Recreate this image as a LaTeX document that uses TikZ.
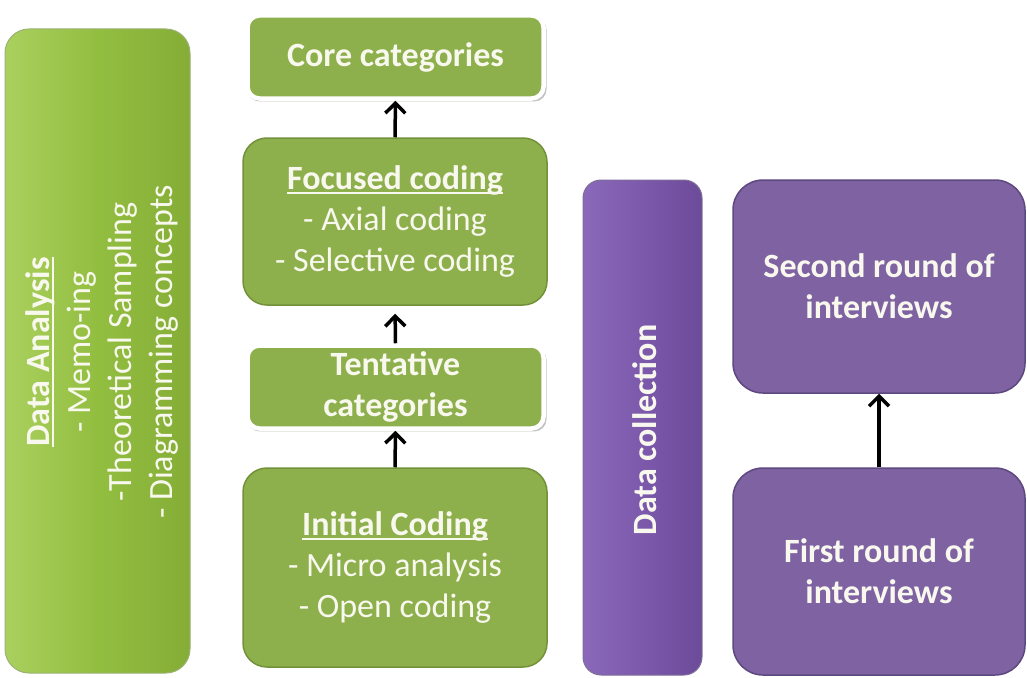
\documentclass[tikz,border=0pt]{standalone}
\usepackage{fontspec}
\setmainfont{Carlito}
\usetikzlibrary{arrows.meta,shadows}

\definecolor{greenfill}{HTML}{8EB04C}
\definecolor{greenline}{HTML}{72913A}
\definecolor{greenlight}{HTML}{AAD05E}
\definecolor{greenmid}{HTML}{92BE40}
\definecolor{greendark}{HTML}{85AD37}
\definecolor{purplefill}{HTML}{7F62A2}
\definecolor{purpleline}{HTML}{5E4880}
\definecolor{purplelight}{HTML}{8A69BA}
\definecolor{purplemid}{HTML}{7C59AB}
\definecolor{purpledark}{HTML}{6C4B99}
\definecolor{textwhite}{HTML}{F8F8EE}

% heading underline: a rule just below the baseline, crossing descenders
\newsavebox{\headbox}
\newcommand{\headline}[1]{\leavevmode\sbox{\headbox}{#1}%
  \rlap{\rule[-4pt]{\wd\headbox}{1.6pt}}\usebox{\headbox}}

\tikzset{
  txt/.style={text=textwhite, font=\fontsize{34}{41}\selectfont, align=center},
  boldtxt/.style={txt, font=\fontsize{34}{41}\selectfont\bfseries},
  greenbox/.style={draw=greenline, line width=1.5pt, fill=greenfill,
    rounded corners=24pt, inner sep=0pt},
  framedbox/.style={draw=white, line width=4.5pt, fill=greenfill,
    rounded corners=12pt, inner sep=0pt,
    drop shadow={opacity=0.4, fill=black!60, shadow xshift=1.5pt,
      shadow yshift=-2.5pt, shadow scale=1.01}},
  bargreen/.style={draw=greenline!70, line width=1pt, rounded corners=24pt,
    inner sep=0pt, left color=greenlight, right color=greendark, middle color=greenmid},
  barpurple/.style={draw=purpleline!80, line width=1pt, rounded corners=18pt,
    inner sep=0pt, left color=purplelight, right color=purpledark, middle color=purplemid},
  purplebox/.style={draw=purpleline, line width=1.5pt, fill=purplefill,
    rounded corners=30pt, inner sep=0pt},
  flow/.style={line width=3.5pt, black,
    -{Straight Barb[length=10pt,width=20pt,line width=3.5pt]}},
}

\begin{document}
\begin{tikzpicture}[x=1pt,y=-1pt]
  \useasboundingbox[fill=white] (0,0) rectangle (1027,677);

  % left column: analysis activities
  \node[bargreen, minimum width=185pt, minimum height=644pt] (ana) at (97.5,351) {};
  \node[txt, rotate=90] (anatext) at (102,352)
    {\headline{\textbf{Data Analysis}}\\- Memo-ing\\-Theoretical Sampling\\- Diagramming concepts};

  % coding stages, bottom to top
  \node[framedbox, minimum width=296pt, minimum height=83pt] (core) at (395.5,57) {};
  \node[boldtxt] at (core.center) {Core categories};

  \node[greenbox, minimum width=304pt, minimum height=167pt] (foc) at (395,221.5) {};
  \node[txt] at (foc.center) {\headline{\textbf{Focused coding}}\\- Axial coding\\- Selective coding};

  \node[framedbox, minimum width=296pt, minimum height=83pt] (tent) at (395.5,387) {};
  \node[boldtxt] at (tent.center) {Tentative\\categories};

  \node[greenbox, minimum width=304pt, minimum height=199pt] (init) at (395,567.5) {};
  \node[txt] at (init.center) {\headline{\textbf{Initial Coding}}\\- Micro analysis\\- Open coding};

  \draw[flow] (init.north) -- (tent.south);
  \draw[flow, shorten >=8pt] (tent.north) -- (foc.south);
  \draw[flow] (foc.north) -- (core.south);

  % data collection column
  \node[barpurple, minimum width=119pt, minimum height=495pt] (col) at (642.5,427.5) {};
  \node[boldtxt, rotate=90] at (645,430) {Data collection};

  \node[purplebox, minimum width=292pt, minimum height=213pt] (second) at (879,286.5) {};
  \node[boldtxt] at (second.center) {Second round of\\interviews};

  \node[purplebox, minimum width=292pt, minimum height=207pt] (first) at (879,571.5) {};
  \node[boldtxt] at (first.center) {First round of\\interviews};

  \draw[flow] (first.north) -- (second.south);
\end{tikzpicture}
\end{document}
